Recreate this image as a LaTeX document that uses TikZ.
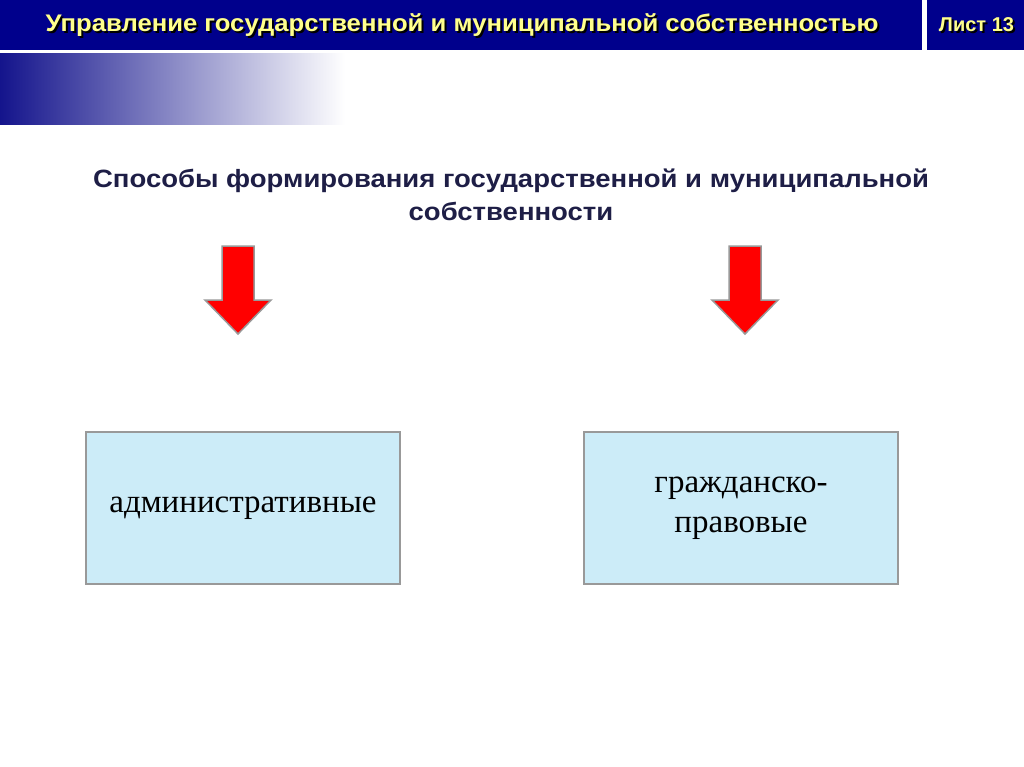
\documentclass[tikz,border=0pt]{standalone}
\usepackage{fontspec}
\setmainfont{Liberation Serif}
\setsansfont{Liberation Sans}
\begin{document}
\begin{tikzpicture}[x=1pt,y=-1pt,
  hdr/.style={fill={rgb,255:red,0;green,0;blue,140}},
  redarrow/.style={fill=red,draw=gray!80,line width=1.5pt,line join=miter},
  box/.style={draw=gray!80,line width=1.5pt,fill={rgb,255:red,204;green,236;blue,248},minimum width=314pt,minimum height=152pt,font=\fontsize{33}{40}\selectfont,align=center}]
\useasboundingbox (0,0) rectangle (1024,767);
\fill[white] (0,0) rectangle (1024,767);
\fill[hdr] (0,0) rectangle (922,50);
\fill[hdr] (927,0) rectangle (1024,50);
\shade[left color={rgb,255:red,20;green,20;blue,140},right color=white] (0,54) rectangle (345,125);
\node[font=\sffamily\bfseries\fontsize{24}{28}\selectfont,text=black,xscale=1.07] at (464,27) {Управление государственной и муниципальной собственностью};
\node[font=\sffamily\bfseries\fontsize{24}{28}\selectfont,text={rgb,255:red,255;green,255;blue,140},xscale=1.07] (title) at (462,25) {Управление государственной и муниципальной собственностью};
\node[font=\sffamily\bfseries\fontsize{20}{24}\selectfont,text=black] at (978.5,27) {Лист 13};
\node[font=\sffamily\bfseries\fontsize{20}{24}\selectfont,text={rgb,255:red,255;green,255;blue,140}] (sheet) at (976.5,25) {Лист 13};
\node[font=\sffamily\bfseries\fontsize{25}{33}\selectfont,text={rgb,255:red,30;green,30;blue,70},align=center,xscale=1.1] (sub) at (511,195) {Способы формирования государственной и муниципальной\\собственности};
\foreach \c/\n in {238/la,745/ra}{
  \draw[redarrow] (\c-16,246) -- (\c+16,246) -- (\c+16,300) -- (\c+33,300) -- (\c,334) -- (\c-33,300) -- (\c-16,300) -- cycle;
}
\node[box] (a) at (243,508) {административные};
\node[box] (b) at (741,508) {гражданско-\\правовые};
\end{tikzpicture}
\end{document}
